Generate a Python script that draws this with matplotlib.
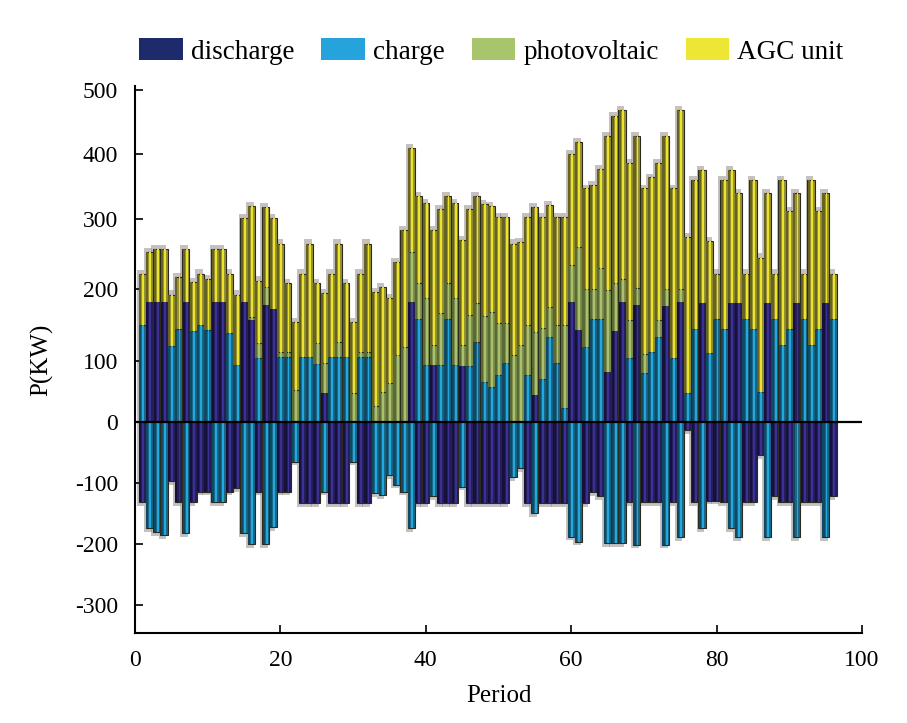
import numpy as np
import matplotlib.pyplot as plt
from matplotlib.patches import Patch

plt.rcParams['font.family'] = ['Liberation Serif', 'DejaVu Serif']
plt.rcParams['axes.unicode_minus'] = False

periods = np.arange(1, 97)

# storage output, positive = delivered, negative = absorbed (KW)
discharge = [-131, 182, 182, 182, -97, -131, 182, -131, -114, -114, 182, 182, -114, -108, 182, 157,
             -114, 178, 172, -114, -114, 0, -133, -133, -133, 47, -133, -133, -133, 0, -133, -133,
             0, 0, 0, 0, 0, 182, -133, -133, 93, -133, -133, -133, 92, -133, -133, -133,
             -133, -133, -133, 0, 0, -133, 44, -133, -133, -133, -133, 182, 143, -133, -115, -122,
             82, 141, 182, -131, 178, -131, -131, -131, 176, -131, 182, -13, -131, 180, -129, -129,
             -131, 180, 180, -131, -131, -54, 180, -122, -131, -131, 180, -131, -131, -131, 180, -122]
charge = [150, -174, -181, -185, 121, 144, -182, 141, 150, 143, -131, -131, 139, 93, -182, -200,
          104, -200, -172, 105, 105, -65, 105, 105, 95, -114, 105, 105, 105, -65, 105, 105,
          -117, -120, -87, -103, -114, -174, 159, 93, -122, 93, 158, 93, -106, 92, 127, 66,
          58, 77, 97, -90, -76, 77, -150, 70, 134, 97, 23, -188, -196, 120, 159, 159,
          -199, -199, -199, 104, -201, 80, 112, 134, -201, 104, -189, 48, 145, -174, 111, 159,
          145, -174, -189, 159, 145, 50, -189, 159, 122, 145, -189, 159, 122, 145, -189, 159]
photovoltaic = [0, 0, 0, 0, 0, 0, 0, 0, 0, 0, 0, 0, 0, 0, 0, 4,
                21, 25, 0, 7, 7, 52, 0, 0, 30, 50, 0, 21, 0, 47, 7, 7,
                27, 50, 64, 108, 120, 71, 49, 94, 29, 74, 50, 94, 30, 72, 53, 96,
                110, 76, 56, 108, 122, 73, 96, 76, 41, 53, 127, 53, 117, 80, 41, 71,
                117, 67, 33, 53, 23, 30, 0, 23, 24, 0, 18, 0, 0, 0, 0, 0,
                0, 0, 0, 0, 0, 0, 0, 0, 0, 0, 0, 0, 0, 0, 0, 0]
agc_unit = [71, 71, 75, 75, 71, 73, 75, 69, 72, 71, 75, 75, 83, 99, 120, 159,
            87, 116, 130, 153, 96, 102, 117, 160, 84, 97, 117, 139, 104, 107, 110, 153,
            169, 153, 123, 131, 164, 157, 127, 138, 162, 149, 127, 138, 148, 152, 155, 161,
            152, 150, 150, 157, 145, 153, 178, 157, 146, 153, 153, 165, 159, 147, 152, 147,
            229, 252, 254, 229, 227, 237, 252, 229, 228, 243, 269, 226, 215, 196, 157, 63,
            215, 196, 160, 63, 215, 195, 160, 63, 238, 168, 160, 63, 238, 168, 160, 63]

names = ['discharge', 'charge', 'photovoltaic', 'AGC unit']
legend_colors = ['#1d2a6c', '#27a3dc', '#a8c46c', '#eee634']
body_colors = ['#241e5a', '#19688a', '#7e904b', '#99942f']
dark_colors = ['#15113a', '#0f4a62', '#5a6a34', '#666224']
stripe_colors = ['#3a3096', '#22a8dc', '#a9c06e', '#ece42c']

# the y ticks of the original are not evenly spaced, follow them piecewise
y_vals = [-346, -300, -200, -100, 0, 100, 200, 300, 400, 500, 506]
y_pos = [0, 28, 89, 150, 211, 272, 344, 414, 479, 543, 547]


def fwd(v):
    return np.interp(v, y_vals, y_pos)


def inv(t):
    return np.interp(t, y_pos, y_vals)


fig = plt.figure(figsize=(9.07, 7.23), dpi=100)
ax = fig.add_axes([0.1488, 0.1245, 0.8016, 0.7565])
ax.set_yscale('function', functions=(fwd, inv))

series = [np.asarray(s, float) for s in (discharge, charge, photovoltaic, agc_unit)]
tot_up = sum(np.clip(s, 0, None) for s in series)
tot_down = sum(np.clip(s, None, 0) for s in series)

# soft grey shadow behind every column
ax.bar(periods - 0.22, tot_up - tot_down + 12, bottom=tot_down - 6, width=1.05,
       color='#8c8484', alpha=0.5, linewidth=0, zorder=1)

up = np.zeros(len(periods))
down = np.zeros(len(periods))
for vals, body, dark, stripe in zip(series, body_colors, dark_colors, stripe_colors):
    for mask, base in ((vals > 0, up), (vals < 0, down)):
        x, h, b = periods[mask], vals[mask], base[mask]
        ax.bar(x, h, bottom=b, width=1.0, color=body, edgecolor='#2b2b20',
               linewidth=0.8, zorder=2)
        ax.bar(x - 0.3, h, bottom=b, width=0.3, color=dark, linewidth=0, zorder=3)
        ax.bar(x + 0.12, h, bottom=b, width=0.26, color=stripe, linewidth=0, zorder=3)
    up = up + np.clip(vals, 0, None)
    down = down + np.clip(vals, None, 0)

ax.axhline(0, color='black', linewidth=1.6, zorder=4)

ax.set_xlim(0, 100)
ax.set_ylim(-346, 506)
ax.set_xticks(range(0, 101, 20))
ax.set_yticks(range(-300, 501, 100))
ax.tick_params(direction='in', length=6, width=1.2, labelsize=17)
ax.tick_params(axis='x', pad=12)
ax.tick_params(axis='y', pad=12)
for side in ('top', 'right'):
    ax.spines[side].set_visible(False)
for side in ('left', 'bottom'):
    ax.spines[side].set_linewidth(1.5)

ax.set_xlabel('Period', fontsize=18, labelpad=10)
ax.set_ylabel('P(KW)', fontsize=18, labelpad=16)

handles = [Patch(facecolor=c, edgecolor='none', label=n) for n, c in zip(names, legend_colors)]
ax.legend(handles=handles, loc='center', bbox_to_anchor=(0.49, 1.063), ncol=4, frameon=False,
          fontsize=19.5, handlelength=1.6, handleheight=0.87, columnspacing=1.0,
          handletextpad=0.3)

fig.savefig('out.png', dpi=100)
